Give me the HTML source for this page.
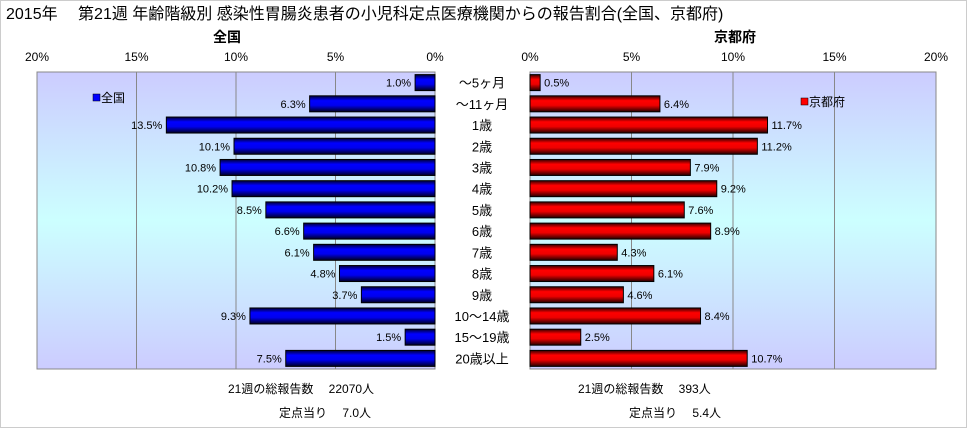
<!DOCTYPE html>
<html><head><meta charset="utf-8"><style>
body{margin:0;background:#fff;}
svg text{font-family:"Liberation Sans","Noto Sans CJK JP",sans-serif;}
</style></head><body>
<svg width="967" height="428" viewBox="0 0 967 428" xmlns="http://www.w3.org/2000/svg">
<defs>
<linearGradient id="bg" x1="0" y1="0" x2="0" y2="1">
<stop offset="0" stop-color="#ccccff"/><stop offset="0.5" stop-color="#ccffff"/><stop offset="1" stop-color="#ccccff"/></linearGradient>
<linearGradient id="gb" x1="0" y1="0" x2="0" y2="1">
<stop offset="0" stop-color="#000033"/><stop offset="0.3" stop-color="#0000ff"/><stop offset="0.6" stop-color="#0000ee"/><stop offset="1" stop-color="#000022"/></linearGradient>
<linearGradient id="gr" x1="0" y1="0" x2="0" y2="1">
<stop offset="0" stop-color="#330000"/><stop offset="0.3" stop-color="#ff0000"/><stop offset="0.6" stop-color="#ee0000"/><stop offset="1" stop-color="#220000"/></linearGradient>
</defs>
<rect x="0.5" y="0.5" width="966" height="427" fill="#fff" stroke="#ccc"/>
<text x="6" y="19" font-size="16">2015年　 第21週 年齢階級別 感染性胃腸炎患者の小児科定点医療機関からの報告割合(全国、京都府)</text>
<text x="227" y="42" font-size="14" font-weight="bold" text-anchor="middle">全国</text>
<text x="735" y="42" font-size="14" font-weight="bold" text-anchor="middle">京都府</text>
<rect x="37" y="72" width="398" height="297" fill="url(#bg)" stroke="#888"/>
<rect x="530" y="72" width="406" height="297" fill="url(#bg)" stroke="#888"/>
<g id="grid"></g><g id="bars"></g><g id="labels"></g>
<rect x="93" y="94" width="7" height="7" fill="#0000ff" stroke="#000" stroke-width="0.5"/>
<text x="101" y="102" font-size="12">全国</text>
<rect x="801" y="98" width="7" height="7" fill="#ff0000" stroke="#000" stroke-width="0.5"/>
<text x="809" y="106" font-size="12">京都府</text>
<text x="228" y="393" font-size="12">21週の総報告数　 22070人</text>
<text x="279" y="417" font-size="12">定点当り　 7.0人</text>
<text x="578" y="393" font-size="12">21週の総報告数　 393人</text>
<text x="629" y="417" font-size="12">定点当り　 5.4人</text>
</svg>
<script>
const categories=["～5ヶ月","～11ヶ月","1歳","2歳","3歳","4歳","5歳","6歳","7歳","8歳","9歳","10～14歳","15～19歳","20歳以上"];
const nationalValues=[1.0,6.3,13.5,10.1,10.8,10.2,8.5,6.6,6.1,4.8,3.7,9.3,1.5,7.5];
const kyotoValues=[0.5,6.4,11.7,11.2,7.9,9.2,7.6,8.9,4.3,6.1,4.6,8.4,2.5,10.7];
const tickValues=[0,5,10,15,20];
const NS="http://www.w3.org/2000/svg";
const L0=435,LW=398,R0=530,RW=406,TOP=72,H=297,MAX=20;
const xl=v=>L0-v/MAX*LW, xr=v=>R0+v/MAX*RW;
const band=H/categories.length;
const yc=i=>TOP+band*(i+0.5);
function mk(tag,attrs,parent){const e=document.createElementNS(NS,tag);for(const k in attrs)e.setAttribute(k,attrs[k]);document.getElementById(parent).appendChild(e);return e;}
tickValues.forEach(t=>{
  if(t>0&&t<MAX){
    let g=mk('line',{x1:xl(t),x2:xl(t),y1:TOP,y2:TOP+H,stroke:'#888'},'grid');
    
    
    g=mk('line',{x1:xr(t),x2:xr(t),y1:TOP,y2:TOP+H,stroke:'#888'},'grid');
    
    
  }
  let a=mk('text',{x:xl(t),y:61,'font-size':12,'text-anchor':'middle'},'labels');a.textContent=t+'%';
  
  
  a=mk('text',{x:xr(t),y:61,'font-size':12,'text-anchor':'middle'},'labels');a.textContent=t+'%';
  
  
});
const bh=16;
categories.forEach((c,i)=>{
  const y=yc(i);
  const n=nationalValues[i],k=kyotoValues[i];
  let b=mk('rect',{x:xl(n),y:y-bh/2,width:L0-xl(n),height:bh,fill:'url(#gb)',stroke:'#000','stroke-width':1},'bars');
  
  
  b=mk('rect',{x:R0,y:y-bh/2,width:xr(k)-R0,height:bh,fill:'url(#gr)',stroke:'#000','stroke-width':1},'bars');
  
  
  let t=mk('text',{x:xl(n)-4,y:y+4,'font-size':11,'text-anchor':'end'},'labels');t.textContent=n.toFixed(1)+'%';
  
  
  t=mk('text',{x:xr(k)+4,y:y+4,'font-size':11},'labels');t.textContent=k.toFixed(1)+'%';
  
  
  t=mk('text',{x:482,y:y+5,'font-size':13,'text-anchor':'middle'},'labels');t.textContent=c;
  
  
});
</script>
</body></html>
